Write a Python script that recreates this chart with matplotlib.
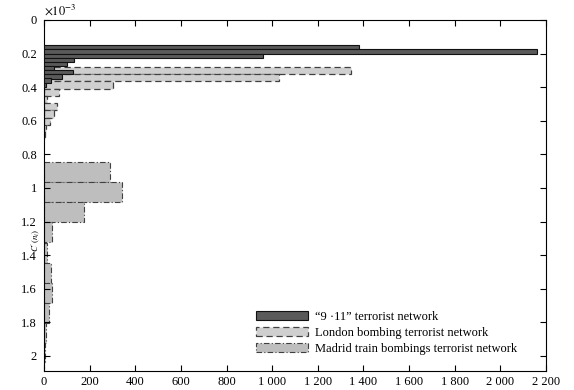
import matplotlib
matplotlib.use("Agg")
import matplotlib.pyplot as plt
from matplotlib.patches import Patch
from matplotlib.ticker import FuncFormatter

# C'(n_i) bin lower edges (units of 1e-3) and counts
wtc_edges = [0.150, 0.175, 0.200, 0.225, 0.249, 0.274, 0.299, 0.324, 0.348, 0.373]
wtc_counts = [1380, 2160, 960, 133, 102, 44, 128, 79, 30, 10]

london_edges = [0.279, 0.322, 0.365, 0.409, 0.452, 0.495, 0.538, 0.581, 0.624, 0.668]
london_counts = [1345, 1030, 301, 64, 12, 55, 42, 25, 8, 4]

madrid_edges = [0.847, 0.966, 1.086, 1.205, 1.325, 1.444, 1.564, 1.683, 1.802, 1.922]
madrid_counts = [290, 343, 177, 36, 12, 31, 34, 22, 10, 5]

labels = ["\u201c9 \u00b711\u201d terrorist network",
          "London bombing terrorist network",
          "Madrid train bombings terrorist network"]

x_ticks = list(range(0, 2201, 200))
y_ticks = [0, 0.2, 0.4, 0.6, 0.8, 1.0, 1.2, 1.4, 1.6, 1.8, 2.0]

plt.rcParams["font.family"] = ["Liberation Serif", "DejaVu Serif"]
plt.rcParams["mathtext.fontset"] = "stix"
plt.rcParams["font.size"] = 9

fig = plt.figure(figsize=(5.74, 3.90), dpi=100)
ax = fig.add_axes([44 / 574, 19 / 390, 502 / 574, 351 / 390])

# Madrid first, London over it, 9/11 on top
madrid_style = dict(facecolor="#bebebe", edgecolor="#404040", linewidth=0.8,
                    linestyle=(0, (5, 2, 1, 2)))
london_style = dict(facecolor="#cfcfcf", edgecolor="#404040", linewidth=0.9,
                    linestyle=(0, (5, 3)))
wtc_style = dict(facecolor="#5a5a5a", edgecolor="#111111", linewidth=0.8)

ax.barh(madrid_edges, madrid_counts, height=0.1194, align="edge", zorder=1, **madrid_style)
ax.barh(london_edges, london_counts, height=0.0434, align="edge", zorder=2, **london_style)
ax.barh(wtc_edges, wtc_counts, height=0.0247, align="edge", zorder=3, **wtc_style)

ax.set_xlim(0, 2200)
ax.set_ylim(2.09, 0)
ax.set_xticks(x_ticks)
ax.set_yticks(y_ticks)
ax.xaxis.set_major_formatter(FuncFormatter(lambda v, p: f"{int(v):,}".replace(",", " ")))
ax.yaxis.set_major_formatter(FuncFormatter(lambda v, p: f"{v:g}"))
ax.tick_params(direction="in", top=True, right=True, length=4, width=0.8, labelsize=9)
ax.tick_params(axis="y", pad=5)
for s in ax.spines.values():
    s.set_linewidth(0.8)

ax.text(0.0, 1.008, r"$\times10^{-3}$", transform=ax.transAxes, ha="left", va="bottom", fontsize=9)
ax.set_ylabel(r"$C'(n_i)$", fontsize=6.5, labelpad=0)
ax.yaxis.set_label_coords(-0.004, 0.371)

handles = [Patch(**wtc_style), Patch(**london_style), Patch(**madrid_style)]
ax.legend(handles, labels, loc="lower left", bbox_to_anchor=(0.422, 0.045),
          frameon=False, fontsize=9, handlelength=4.2, handleheight=0.75,
          handletextpad=0.5, labelspacing=0.33, borderpad=0, borderaxespad=0)

fig.savefig("out.png", dpi=100)
